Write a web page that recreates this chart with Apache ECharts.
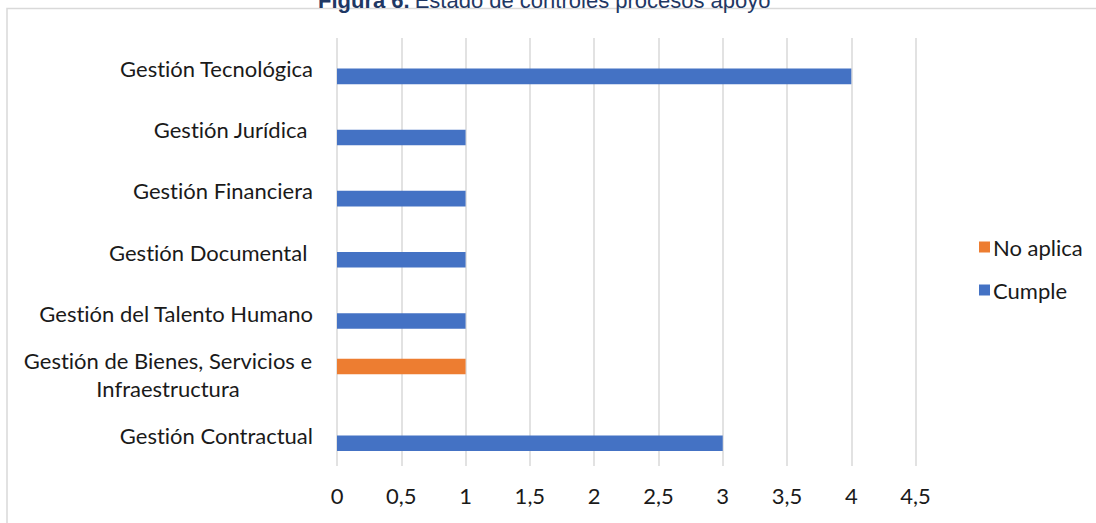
<!DOCTYPE html>
<html>
<head>
<meta charset="utf-8">
<script src="https://cdn.jsdelivr.net/npm/echarts@6/dist/echarts.min.js"></script>
<style>
html,body{margin:0;padding:0;background:#fff;}
#chart{width:1096px;height:523px;}
#chart, #chart svg, #chart text, #chart tspan{
  font-variant-ligatures:none !important;
  font-feature-settings:"liga" 0, "clig" 0, "calt" 0, "dlig" 0 !important;
  text-rendering:optimizeSpeed !important;
}
</style>
</head>
<body>
<div id="chart"></div>
<script>
const categories = ['Gestión Contractual','Gestión de Bienes, Servicios e Infraestructura','Gestión del Talento Humano','Gestión Documental ','Gestión Financiera','Gestión Jurídica ','Gestión Tecnológica'];
const noAplica = [null, 1, null, null, null, null, null];
const cumple = [3, null, 1, 1, 1, 1, 4];
const xTicks = [0, 0.5, 1, 1.5, 2, 2.5, 3, 3.5, 4, 4.5];

const labelFont = 'Lato';
const labelSize = 22;
const chart = echarts.init(document.getElementById('chart'), null, {renderer: 'svg'});
chart.setOption({
  animation: false,
  backgroundColor: '#fff',
  title: {
    text: '{b|Figura 6.} {n|Estado de controles procesos apoyo}',
    left: 313, top: -16,
    textStyle: {
      fontWeight: 'normal',
      rich: {
        b: {fontFamily: 'Liberation Sans', fontWeight: 'bold', fontSize: 22, color: '#1F3864', lineHeight: 22},
        n: {fontFamily: 'Liberation Sans', fontWeight: 'normal', fontSize: 22, color: '#1F3864', lineHeight: 22}
      }
    }
  },
  graphic: [{
    type: 'rect', shape: {x: 7, y: 8.5, width: 1300, height: 700},
    style: {fill: 'none', stroke: '#d9d9d9', lineWidth: 1.5}, silent: true
  }],
  legend: {
    data: ['No aplica', 'Cumple'],
    orient: 'vertical',
    left: 974, top: 231,
    itemWidth: 11, itemHeight: 11, itemGap: 21,
    icon: 'rect',
    textStyle: {fontFamily: labelFont, fontSize: labelSize, color: '#1a1a1a', padding: [0,0,0,-2]}
  },
  grid: {left: 337, right: 180.4, top: 38, bottom: 57},
  xAxis: {
    type: 'value', min: 0, max: 4.5, interval: 0.5,
    axisLine: {show: false}, axisTick: {show: false},
    splitLine: {show: true, lineStyle: {color: '#d9d9d9', width: 1.5}},
    axisLabel: {
      margin: 18, fontFamily: labelFont, fontSize: labelSize, color: '#1a1a1a',
      formatter: v => String(v).replace('.', ',')
    }
  },
  yAxis: {
    type: 'category', data: categories,
    axisLine: {show: false}, axisTick: {show: false},
    axisLabel: {
      margin: 24, fontFamily: labelFont, fontSize: labelSize, color: '#1a1a1a',
      formatter: function (v) {
        if (v.indexOf('Bienes') >= 0) {
          return '{c|Gestión de Bienes, Servicios e}\n{c|Infraestructura}';
        }
        return v;
      },
      rich: {
        c: {width: 290, align: 'center', fontFamily: labelFont, fontSize: labelSize, color: '#1a1a1a', lineHeight: 28}
      }
    }
  },
  series: [
    {name: 'No aplica', type: 'bar', data: noAplica, itemStyle: {color: '#ED7D31'}, barGap: '0%', barCategoryGap: '49%'},
    {name: 'Cumple', type: 'bar', data: cumple, itemStyle: {color: '#4472C4'}, barGap: '0%', barCategoryGap: '49%'}
  ]
});
</script>
</body>
</html>
